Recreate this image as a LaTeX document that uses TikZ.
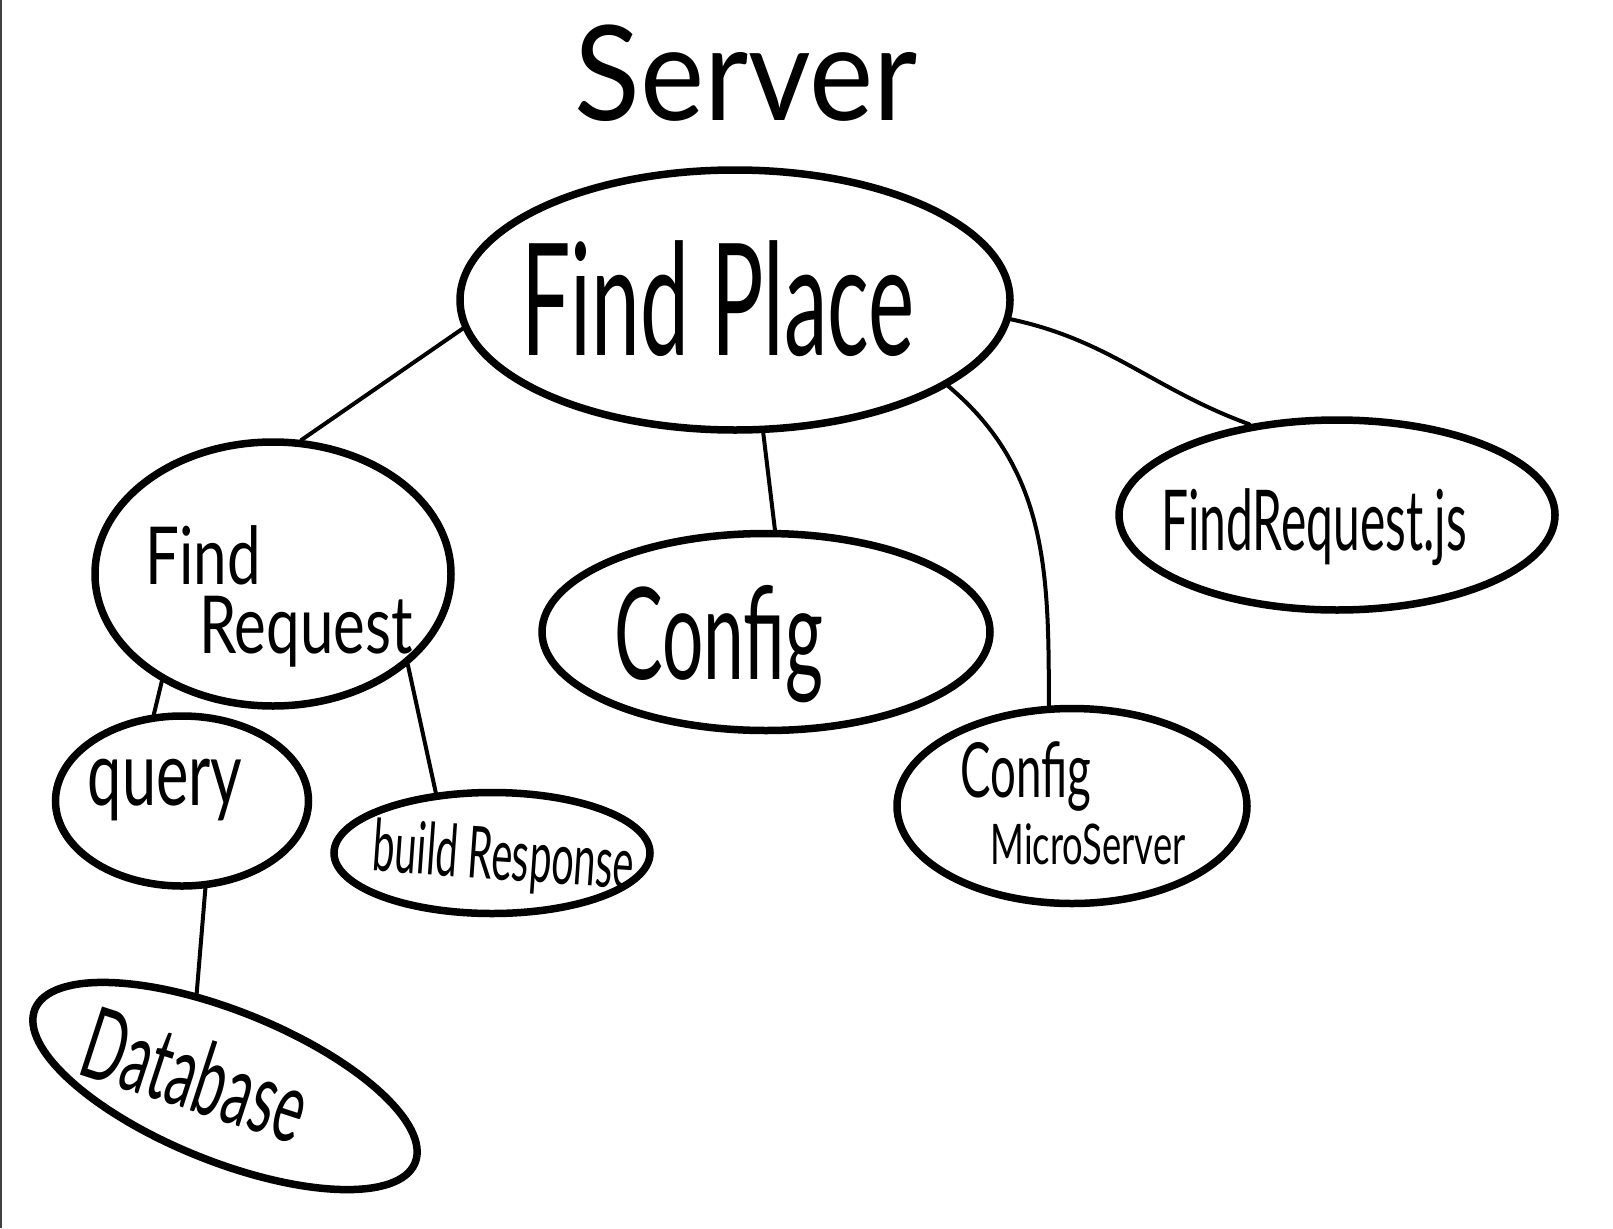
\documentclass[tikz,border=0pt]{standalone}
\usepackage{graphicx}
\usepackage{fontspec}
\setmainfont{Lato}
\usetikzlibrary{shapes.geometric}
\newcommand{\hw}[3]{\fontsize{#1}{#1}\selectfont\scalebox{#2}[1]{#3}}
\begin{document}
\begin{tikzpicture}[x=1pt,y=-1pt,
  blob/.style={draw, ellipse, line width=7.5pt, inner sep=0pt},
  link/.style={line width=4pt, line cap=round},
  lbl/.style={inner sep=0pt, anchor=base}]
\useasboundingbox (0,0) rectangle (1613,1228);
\draw[black!75, line width=2pt] (1,0) -- (1,1228);

% title
\node[lbl] (title) at (746,121) {\hw{132}{0.92}{Server}};

% blobs
\node[blob, minimum width=550pt, minimum height=260pt] (fp) at (735,300) {};
\node[blob, minimum width=356pt, minimum height=264pt] (fr) at (273,574) {};
\node[blob, minimum width=448pt, minimum height=197pt] (cfg) at (766,632) {};
\node[blob, minimum width=350pt, minimum height=195pt] (cms) at (1072,806) {};
\node[blob, minimum width=436pt, minimum height=190pt] (frjs) at (1337,515) {};
\node[blob, minimum width=253pt, minimum height=170pt] (q) at (182,801) {};
\node[blob, minimum width=316pt, minimum height=121pt] (br) at (492,853) {};
\node[blob, minimum width=410pt, minimum height=150pt, rotate=-22] (db) at (225,1086) {};

% labels
\node[lbl] (tfp) at (718,355) {\hw{156}{0.56}{Find Place}};
\node[lbl] (tfr1) at (203,584) {\hw{80}{0.75}{Find}};
\node[lbl] (tfr2) at (306,653) {\hw{80}{0.75}{Request}};
\node[lbl] (tcfg) at (719,679) {\hw{128}{0.57}{Config}};
\node[lbl] (tcms1) at (1026,797) {\hw{76}{0.6}{Config}};
\node[lbl] (tcms2) at (1088,864) {\hw{56}{0.65}{MicroServer}};
\node[lbl] (tfrjs) at (1314,550) {\hw{84}{0.57}{FindRequest.js}};
\node[lbl] (tq) at (165,805) {\hw{90}{0.68}{query}};
\node[lbl, rotate=-4] (tbr) at (502,880) {\hw{72}{0.55}{build Response}};
\node[inner sep=0pt, rotate=-18] (tdb) at (196,1074) {\hw{100}{0.56}{Database}};

% connectors
\draw[link] (fp.186) -- (fr.78);
\draw[link] (fp.282) -- (cfg.85);
\draw[link] (fp.338) to[out=-40,in=90] (cms.103);
\draw[link] (fp.356) to[out=-12,in=160] (frjs.134);
\draw[link] (fr.224) -- (q.108);
\draw[link] (fr.326) -- (br.133);
\draw[link] (q.285) -- (db.129);
\end{tikzpicture}
\end{document}
